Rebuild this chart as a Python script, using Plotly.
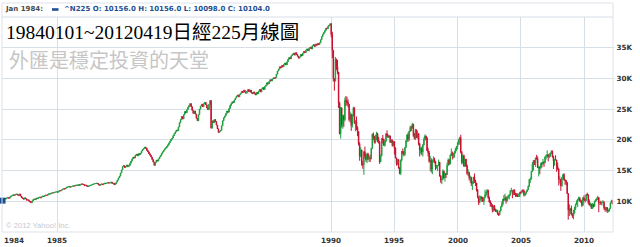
import pandas as pd
import plotly.graph_objects as go

# ---------------- data ----------------
FIRST_OPEN = 10156.0
FIRST_HIGH = 10156.0
FIRST_LOW = 10098.0

# weekly closes 1984-1989
w1984 = [10104, 10250, 10420, 10380, 10550, 10620, 10490, 10700, 10850, 10920,
         11050, 10980, 11120, 11180, 11050, 10960, 11190, 10850, 10620, 10480,
         10350, 10560, 10400, 10180, 10250, 10050, 9920, 9780, 10050, 10250,
         10380, 10320, 10520, 10450, 10610, 10680, 10560, 10720, 10850, 10780,
         10910, 11020, 10950, 11120, 11230, 11180, 11300, 11380, 11350, 11460,
         11520, 11540]
w1985 = [11480, 11620, 11750, 11700, 11850, 11980, 12050, 11990, 12150, 12280,
         12350, 12420, 12300, 12380, 12450, 12520, 12470, 12600, 12650, 12580,
         12700, 12620, 12750, 12830, 12780, 12700, 12550, 12650, 12480, 12400,
         12520, 12580, 12650, 12720, 12800, 12860, 12900, 12950, 12880, 12700,
         12600, 12750, 12820, 12700, 12850, 12950, 12880, 12980, 13050, 12950,
         13080, 13110]
w1986 = [12880, 12950, 12700, 12850, 13150, 13450, 13800, 14100, 14600, 15100,
         15650, 15800, 15500, 15700, 15900, 15650, 15850, 16200, 16550, 16900,
         17200, 17050, 17500, 17650, 17400, 17750, 17600, 17850, 18200, 18450,
         18600, 18820, 18650, 18300, 18050, 17750, 17500, 17200, 16800, 16400,
         15850, 16350, 16700, 16550, 16900, 17200, 17450, 17800, 18050, 18300,
         18550, 18700]
w1987 = [18950, 19200, 19500, 19800, 20100, 20300, 20700, 21000, 21300, 21600,
         21500, 22100, 22800, 23300, 23800, 23400, 24100, 24600, 24400, 24900,
         25300, 25600, 25900, 25400, 24800, 24300, 24700, 24200, 23500, 23100,
         24100, 25000, 25500, 25800, 25400, 25900, 26100, 25700, 25200, 24900,
         25800, 26400, 21900, 23100, 22800, 23300, 23000, 22400, 21800, 21200,
         21400, 21550]
w1988 = [22300, 23100, 23600, 23900, 24300, 24700, 24500, 25100, 25600, 25900,
         26200, 26100, 26500, 26800, 27100, 27300, 27000, 27400, 27600, 27900,
         27700, 28100, 27800, 27600, 27900, 28200, 27800, 28100, 27700, 27500,
         27800, 27600, 27300, 27700, 27500, 27900, 28200, 27800, 28300, 28500,
         28200, 28700, 28900, 29300, 29100, 29500, 29800, 29600, 29900, 30100,
         30000, 30150]
w1989 = [30700, 31200, 31500, 31900, 31700, 32100, 31900, 32300, 32500, 32200,
         32700, 33100, 33400, 33200, 33700, 33900, 34100, 33800, 34200, 33900,
         33600, 33300, 33500, 33900, 33700, 34100, 34400, 34200, 34600, 34800,
         34500, 34900, 35100, 34800, 35300, 35500, 35200, 35600, 35400, 35700,
         35500, 35800, 36300, 36800, 37200, 37500, 37800, 38200, 38100, 38500,
         38700, 38915]

# monthly closes / highs / lows 1990-01 .. 2012-04
m1990s = [37189, 34591, 29980, 29584, 33131, 31940, 31036, 25978, 20984, 25194, 22455, 23849,
          23293, 26409, 26292, 26111, 25790, 23291, 24121, 22336, 23916, 25222, 22687, 22984,
          22023, 21339, 19346, 17391, 18348, 15952, 15910, 18061, 17399, 16767, 17684, 16925,
          17024, 16953, 18591, 20919, 20552, 19590, 20380, 21027, 20106, 19703, 16408, 17417,
          20229, 19997, 19112, 19725, 20974, 20644, 20462, 20629, 19564, 19990, 19076, 19723,
          18650, 17053, 16140, 16807, 15437, 14517, 16678, 18117, 17913, 17655, 18744, 19868,
          20813, 20125, 21407, 22041, 21956, 22531, 20693, 20167, 21556, 20467, 21020, 19361,
          18330, 18557, 18003, 19151, 20068, 20605, 20331, 18229, 17888, 16459, 16636, 15259,
          16628, 16831, 16527, 15641, 15671, 15830, 16379, 14108, 13406, 13564, 14883, 13842,
          14499, 14368, 15837, 16702, 16112, 17530, 17862, 17437, 17605, 17942, 18558, 18934]
h1990s = [38950, 37600, 34600, 30000, 33500, 33200, 33000, 31000, 26200, 25400, 25300, 24100,
          24100, 26900, 27146, 27000, 26600, 25800, 24600, 24300, 24200, 25400, 25300, 23200,
          23800, 22200, 21400, 19600, 18800, 18400, 16600, 18200, 18900, 17700, 17900, 17900,
          17400, 17600, 18700, 21000, 21200, 20600, 20800, 21300, 21148, 20500, 19800, 17600,
          20300, 20800, 20200, 19900, 21100, 21550, 20900, 20800, 20700, 20100, 20000, 19800,
          19700, 18800, 17100, 16900, 16800, 15600, 16800, 18200, 18600, 18200, 18800, 19900,
          20900, 21200, 21500, 22300, 22300, 22750, 22600, 21100, 21800, 21700, 21500, 21100,
          19500, 18800, 18900, 19300, 20400, 20900, 20700, 20400, 18700, 18200, 17400, 17000,
          16800, 17300, 17100, 16500, 15900, 15900, 16800, 16400, 14300, 14000, 15200, 15000,
          14600, 14600, 16300, 17000, 16900, 17600, 18600, 18100, 17900, 18200, 18700, 19000]
l1990s = [36700, 33300, 29500, 28000, 29500, 31400, 30700, 25200, 20900, 20221, 22000, 21800,
          22100, 23000, 25500, 25600, 25300, 23000, 22800, 21456, 22000, 23800, 22600, 21400,
          21600, 20600, 19100, 16600, 17200, 15800, 15300, 14309, 17000, 16400, 16200, 16700,
          16400, 16400, 16800, 18500, 20000, 19400, 19400, 19900, 19600, 19400, 16078, 16600,
          17300, 19400, 19000, 18900, 19700, 20400, 20300, 20300, 19500, 19500, 18900, 19000,
          17600, 17000, 15800, 15900, 15300, 14400, 14295, 16500, 17600, 17300, 17400, 18700,
          19600, 19700, 19800, 21300, 21400, 21800, 20500, 20100, 20000, 20300, 20200, 19100,
          17300, 17700, 17500, 17300, 19100, 19900, 19900, 18200, 17300, 16300, 14900, 14700,
          14400, 16300, 16200, 15100, 15300, 14900, 15800, 14000, 13000, 12787, 13500, 13700,
          13200, 13800, 14300, 15800, 15900, 16000, 17400, 16800, 17000, 17100, 17800, 18200]

m2000s = [19540, 19960, 20337, 17974, 16332, 17411, 15727, 16861, 15747, 14539, 14649, 13786,
          13843, 12884, 12999, 13934, 13262, 12969, 11861, 10713, 9775, 10367, 10697, 10543,
          9997, 10588, 11025, 11493, 11764, 10622, 9877, 9619, 9383, 8640, 9216, 8579,
          8340, 8363, 7973, 7831, 8425, 9083, 9563, 10344, 10219, 10560, 10101, 10677,
          10784, 11042, 11715, 11761, 11236, 11858, 11326, 11082, 10824, 10771, 10899, 11489,
          11388, 11741, 11669, 11009, 11277, 11584, 11900, 12414, 13574, 13607, 14872, 16111,
          16650, 16206, 17060, 16906, 15468, 15505, 15457, 16141, 16128, 16399, 16274, 17226,
          17383, 17604, 17288, 17400, 17876, 18138, 17249, 16569, 16786, 16738, 15681, 15308,
          13592, 13603, 12526, 13850, 14339, 13481, 13377, 13073, 11260, 8577, 8512, 8860,
          7994, 7568, 8110, 8828, 9523, 9958, 10357, 10493, 10133, 10035, 9346, 10546]
h2000s = [19600, 20200, 20500, 20833, 18200, 17600, 17600, 16900, 16900, 16000, 15200, 14800,
          14200, 14000, 13300, 14000, 14529, 13500, 12900, 12000, 10800, 11000, 10900, 10800,
          10700, 10700, 11900, 11600, 11980, 11900, 10800, 10200, 9800, 9500, 9300, 9400,
          8800, 8700, 8600, 8100, 8500, 9200, 10000, 10400, 11000, 11238, 10800, 10800,
          11100, 11100, 11800, 12195, 11800, 11900, 11900, 11300, 11300, 11300, 11300, 11500,
          11600, 11800, 12000, 11900, 11300, 11600, 11900, 12600, 13600, 13900, 14900, 16400,
          16700, 16700, 17100, 17563, 17300, 15800, 15700, 16300, 16400, 16900, 16500, 17300,
          17600, 18300, 17600, 17800, 17900, 18300, 18262, 17400, 16900, 17500, 16600, 16300,
          15200, 14100, 13600, 13900, 14400, 14600, 13600, 13400, 12800, 11300, 9500, 8900,
          9300, 8000, 8600, 9100, 9600, 10170, 10400, 10767, 10700, 10300, 10100, 10700]
l2000s = [18500, 19200, 19200, 17800, 16000, 16100, 15600, 15600, 15600, 14300, 14100, 13400,
          13000, 12500, 11819, 12800, 13000, 12500, 11600, 10500, 9382, 9700, 10100, 9900,
          9900, 9420, 10500, 10800, 11300, 10400, 9800, 9100, 9050, 8200, 8300, 8500,
          8300, 8200, 7800, 7603, 7700, 8400, 9100, 9300, 10000, 10200, 9600, 9900,
          10400, 10300, 10900, 11600, 10500, 11000, 11000, 10700, 10800, 10700, 10700, 10700,
          11200, 11300, 11500, 10800, 10800, 11100, 11500, 11800, 12400, 13000, 13600, 14800,
          15000, 15900, 15600, 16800, 15400, 14045, 14400, 15200, 15500, 15900, 15600, 16200,
          16800, 17100, 16500, 17000, 17200, 17700, 17100, 15262, 15800, 16700, 14800, 15100,
          12573, 12900, 11691, 12400, 13600, 13400, 12700, 12600, 11200, 6994, 7600, 7900,
          7700, 7300, 7054, 8000, 8600, 9400, 9050, 10100, 9900, 9700, 9076, 9300]

m2010s = [10198, 10126, 11090, 11057, 9769, 9383, 9537, 8824, 9369, 9202, 9937, 10229,
          10238, 10624, 9755, 9850, 9694, 9816, 9833, 8955, 8700, 8988, 8435, 8455,
          8803, 9723, 10084, 9588]
h2010s = [10982, 10400, 11100, 11408, 11100, 10300, 9800, 9600, 9700, 9600, 10100, 10400,
          10600, 10891, 10700, 9870, 10100, 9900, 10200, 10000, 9100, 9100, 9000, 8700,
          8850, 9800, 10255, 10100]
l2010s = [10100, 9800, 10100, 10900, 9500, 9300, 9100, 8800, 8800, 9000, 9100, 9900,
          10100, 10200, 8227, 9400, 9400, 9300, 9800, 8600, 8300, 8350, 8100, 8200,
          8300, 8800, 9800, 9500]

grid_years = [1985, 1990, 1995, 2000, 2005, 2010]
label_years = [1984, 1985, 1990, 1995, 2000, 2005, 2010]
y_ticks = [10000, 15000, 20000, 25000, 30000, 35000]
y_labels = ["10K", "15K", "20K", "25K", "30K", "35K"]

# ---------------- build OHLC ----------------
weekly_close = w1984 + w1985 + w1986 + w1987 + w1988 + w1989
monthly_close = m1990s + m2000s + m2010s
monthly_high = h1990s + h2000s + h2010s
monthly_low = l1990s + l2000s + l2010s
closes = weekly_close + monthly_close
dates = list(pd.date_range("1984-01-06", periods=len(weekly_close), freq="7D")) + \
        list(pd.date_range("1990-01-01", periods=len(monthly_close), freq="MS"))
idx = list(range(len(closes)))
opens = [FIRST_OPEN] + closes[:-1]
hi_src = [None] * len(weekly_close) + monthly_high
lo_src = [None] * len(weekly_close) + monthly_low
highs, lows = [], []
for o, c, h, l in zip(opens, closes, hi_src, lo_src):
    highs.append(max(o, c) if h is None else max(h, o, c))
    lows.append(min(o, c) if l is None else min(l, o, c))
highs[0] = FIRST_HIGH
lows[0] = FIRST_LOW


def first_index(year):
    for i, d in enumerate(dates):
        if d.year == year:
            return i
    return 0


grid_idx = [first_index(y) for y in grid_years]

GREEN = "#1e9e3e"
RED = "#c8102e"
GRID = "#d6dee6"
FRAME = "#dde2e7"
BLUE = "#1d4f91"

fig = go.Figure()
fig.add_trace(go.Candlestick(
    x=idx, open=opens, high=highs, low=lows, close=closes,
    increasing=dict(line=dict(color=GREEN, width=1), fillcolor=GREEN),
    decreasing=dict(line=dict(color=RED, width=1), fillcolor=RED),
    whiskerwidth=0, hoverinfo="skip", showlegend=False,
))
fig.add_trace(go.Scatter(
    x=[idx[0]], y=[closes[0]], mode="markers",
    marker=dict(symbol="square", size=6, color=BLUE),
    cliponaxis=False, hoverinfo="skip", showlegend=False,
))

PL, PR, PT, PB = 2, 613, 17, 232
W_PLOT = PR - PL
H_PLOT = PB - PT


def px(xp):
    return (xp - PL) / W_PLOT


def py(yp):
    return (PB - yp) / H_PLOT


annotations = []
hdr_font = dict(family="DejaVu Sans", size=7, weight="bold")
annotations.append(dict(xref="paper", yref="paper", x=px(3), y=py(9.5), xanchor="left",
                        yanchor="middle", text="Jan 1984:", showarrow=False,
                        font=dict(hdr_font, color="#4a4a4a")))
annotations.append(dict(xref="paper", yref="paper", x=px(62), y=py(9.5), xanchor="left",
                        yanchor="middle",
                        text="^N225 O: 10156.0 H: 10156.0 L: 10098.0 C: 10104.0",
                        showarrow=False, font=dict(hdr_font, color=BLUE)))
annotations.append(dict(xref="paper", yref="paper", x=px(4), y=py(32), xanchor="left",
                        yanchor="middle", text="19840101~20120419日經225月線圖",
                        showarrow=False,
                        font=dict(family="Liberation Serif, Noto Sans CJK TC, serif",
                                  size=19.5, color="#000000")))
annotations.append(dict(xref="paper", yref="paper", x=px(7), y=py(60), xanchor="left",
                        yanchor="middle", text="外匯是穩定投資的天堂", showarrow=False,
                        font=dict(family="Noto Sans CJK TC", size=20, color="#c6c6c6")))
annotations.append(dict(xref="paper", yref="paper", x=px(4), y=py(225.5), xanchor="left",
                        yanchor="middle", text="© 2012 Yahoo! Inc.", showarrow=False,
                        font=dict(family="Liberation Sans", size=7.6, color="#c3cad2")))
for yr in label_years:
    common = dict(yref="paper", y=py(240.5), yanchor="middle", text=str(yr), showarrow=False,
                  font=dict(family="DejaVu Sans", size=7.2, weight="bold", color="#333333"))
    if yr == 1984:
        annotations.append(dict(common, xref="x", x=-0.5, xanchor="left"))
    else:
        annotations.append(dict(common, xref="x", x=first_index(yr), xanchor="center"))

shapes = [
    dict(type="rect", xref="paper", yref="paper", x0=0, x1=1, y0=0, y1=py(3),
         line=dict(color=FRAME, width=1), fillcolor="rgba(0,0,0,0)", layer="above"),
    dict(type="line", xref="paper", yref="paper", x0=0, x1=1, y0=1, y1=1,
         line=dict(color=GRID, width=1), layer="below"),
    dict(type="rect", xref="paper", yref="paper", x0=px(52), x1=px(58.5), y0=py(10.8),
         y1=py(8.2), line=dict(width=0), fillcolor=BLUE),
]

fig.update_layout(
    width=640, height=247,
    margin=dict(l=PL, r=640 - PR, t=PT, b=247 - PB),
    paper_bgcolor="white", plot_bgcolor="white",
    showlegend=False,
    annotations=annotations, shapes=shapes,
    xaxis=dict(range=[-0.5, len(closes) - 0.5], tickvals=grid_idx, showticklabels=False,
               showgrid=True, gridcolor=GRID, gridwidth=1, zeroline=False, showline=False,
               ticks="", rangeslider=dict(visible=False), fixedrange=True),
    yaxis=dict(range=[5000, 40000], side="right", tickvals=y_ticks, ticktext=y_labels,
               showgrid=True, gridcolor=GRID, gridwidth=1, zeroline=False, showline=False,
               ticks="outside", ticklen=1, tickcolor=GRID,
               tickfont=dict(family="DejaVu Sans", size=7.2, weight="bold", color="#333333"),
               fixedrange=True),
)

fig.write_html("out.html")
